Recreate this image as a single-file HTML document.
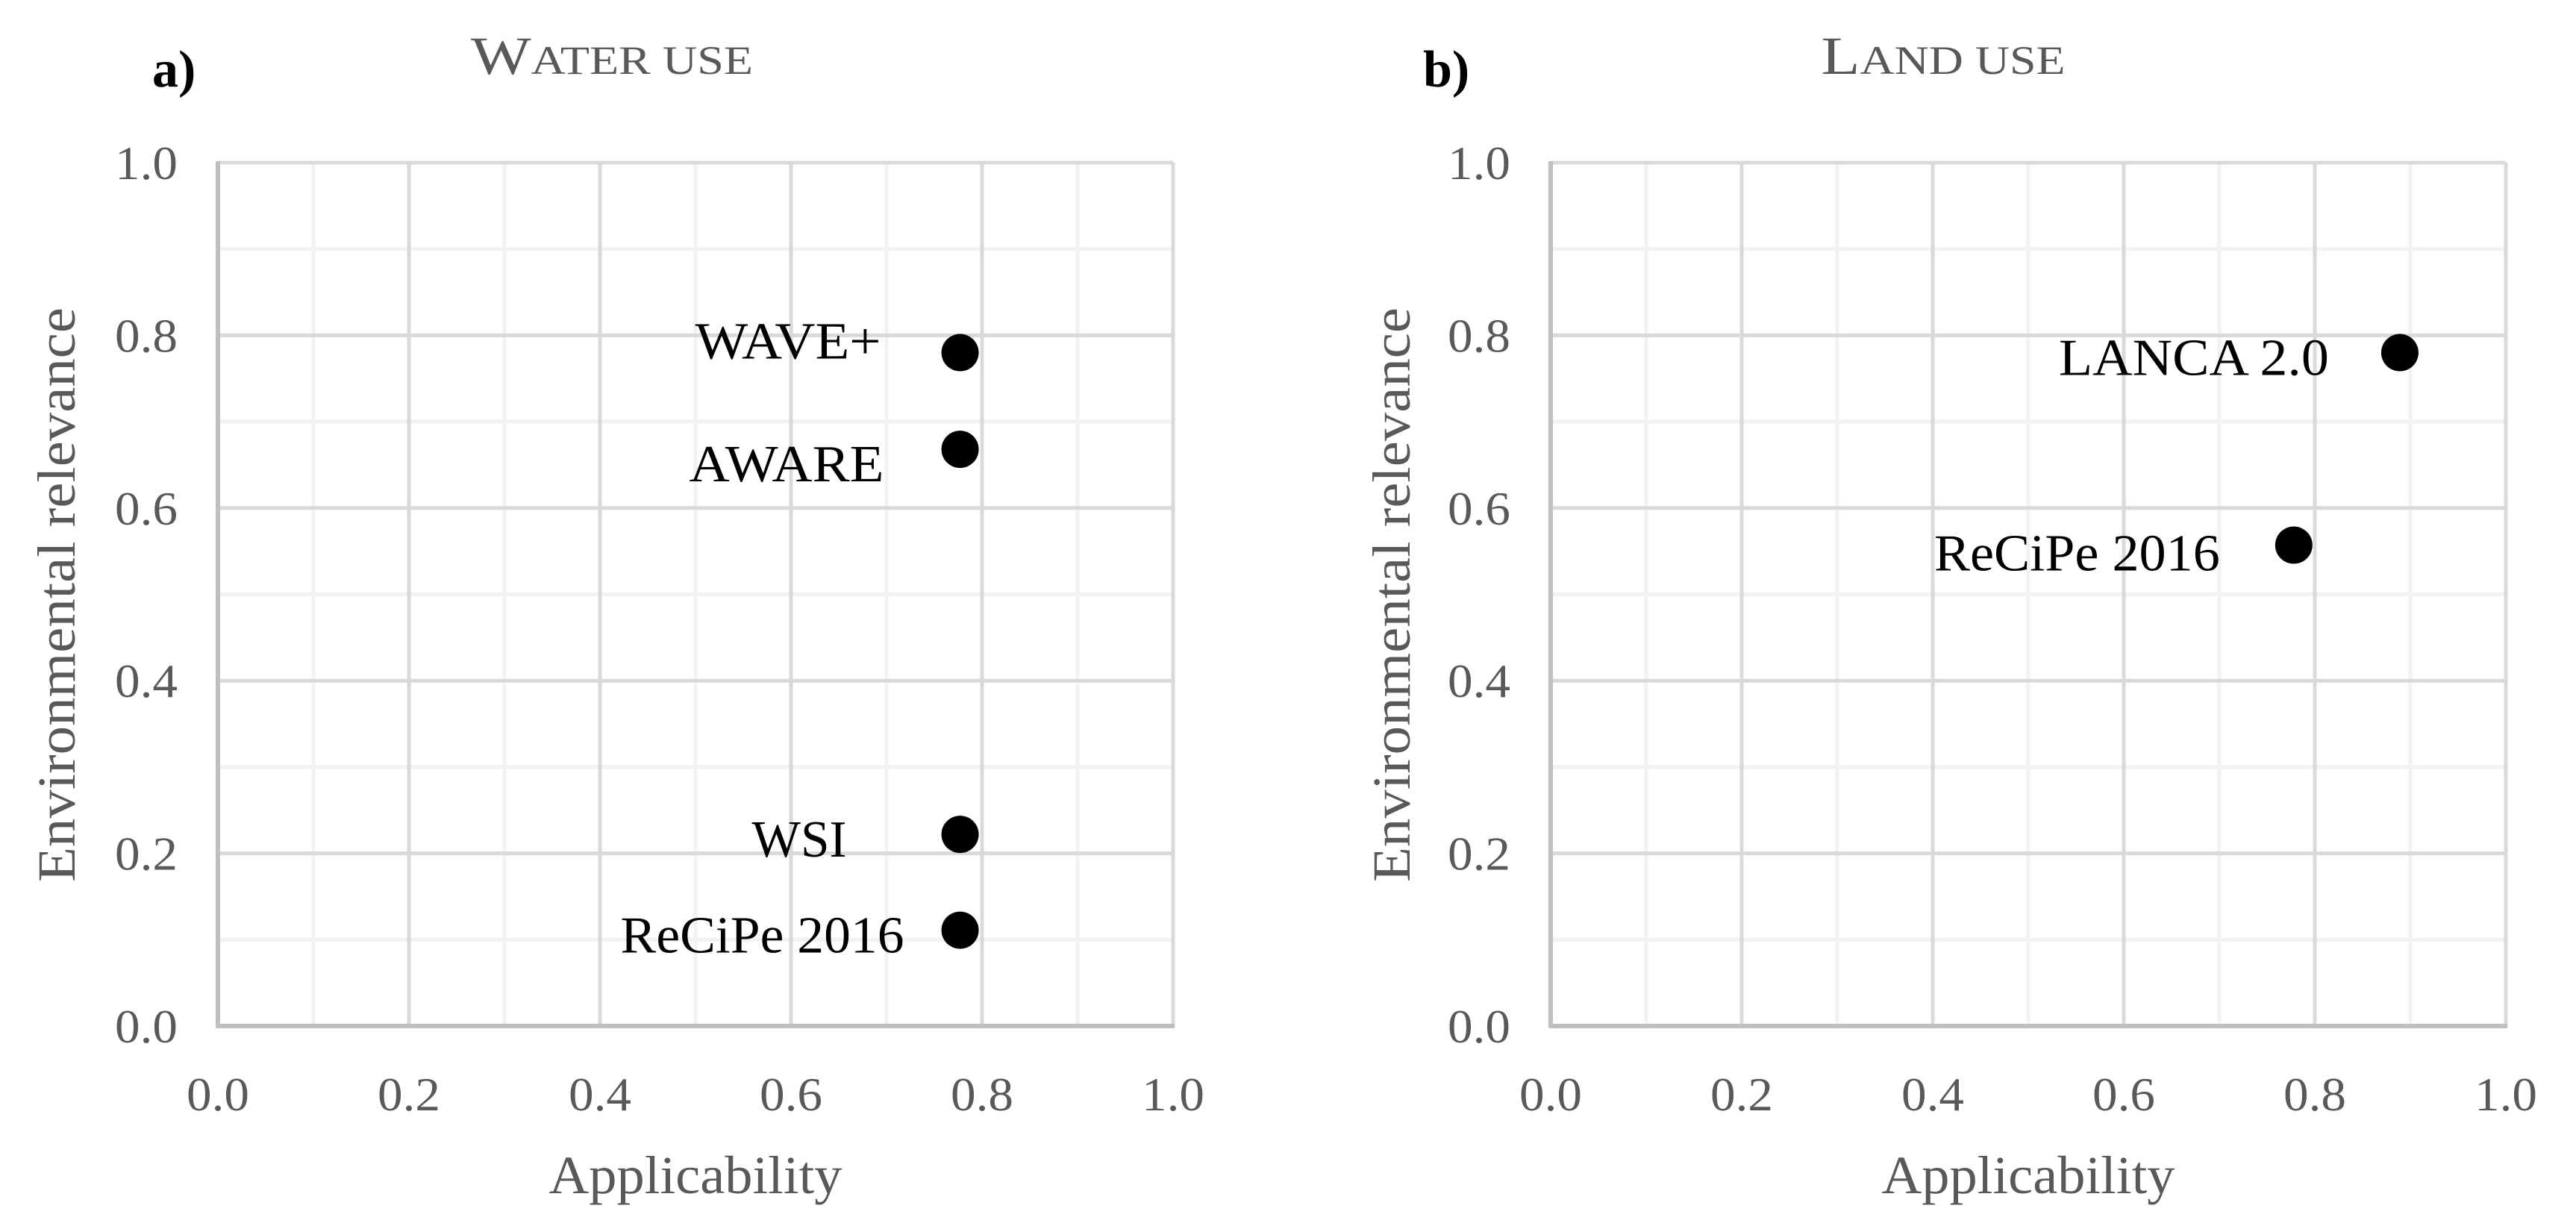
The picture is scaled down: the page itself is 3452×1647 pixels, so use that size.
<!DOCTYPE html>
<html><head><meta charset="utf-8"><style>
html,body{margin:0;padding:0;background:#fff;}
svg{display:block;font-family:"Liberation Serif",serif;}
</style></head><body>
<svg id="chart" width="3452" height="1647" viewBox="0 0 3452 1647" xmlns="http://www.w3.org/2000/svg"></svg>
<script>
// Panel a: Water use
const waterLabels = ["WAVE+", "AWARE", "WSI", "ReCiPe 2016"];
const waterX = [0.777, 0.777, 0.777, 0.777];
const waterY = [0.78, 0.668, 0.222, 0.111];
// Panel b: Land use
const landLabels = ["LANCA 2.0", "ReCiPe 2016"];
const landX = [0.889, 0.778];
const landY = [0.78, 0.557];
const tickLabels = ["0.0", "0.2", "0.4", "0.6", "0.8", "1.0"];
const tickValues = [0, 0.2, 0.4, 0.6, 0.8, 1.0];
const minorValues = [0.1, 0.3, 0.5, 0.7, 0.9];

const NS = "http://www.w3.org/2000/svg";
const svg = document.getElementById('chart');
function mk(tag, attrs, parent) {
  const e = document.createElementNS(NS, tag);
  for (const k in attrs) e.setAttribute(k, attrs[k]);
  (parent || svg).appendChild(e);
  return e;
}

function panel(cfg) {
  const g = mk('g', {});
  
  
  const L = cfg.left, R = cfg.left + 1280, T = 218, B = 1375;
  const sx = v => L + v * (R - L);
  const sy = v => B - v * (B - T);
  minorValues.forEach(v => {
    const a = mk('line', {x1: sx(v), x2: sx(v), y1: T, y2: B, stroke: '#f2f2f2', 'stroke-width': 5}, g);
    
    
    const b = mk('line', {x1: L, x2: R, y1: sy(v), y2: sy(v), stroke: '#f2f2f2', 'stroke-width': 5}, g);
    
    
  });
  tickValues.forEach(v => {
    if (v > 0) {
      const a = mk('line', {x1: sx(v), x2: sx(v), y1: T, y2: B, stroke: '#d9d9d9', 'stroke-width': 5}, g);
      
      
      const b = mk('line', {x1: L, x2: R, y1: sy(v), y2: sy(v), stroke: '#d9d9d9', 'stroke-width': 5}, g);
      
      
    }
  });
  const xa = mk('line', {x1: L - 2, x2: R + 2, y1: B, y2: B, stroke: '#bfbfbf', 'stroke-width': 6}, g);
  
  
  const ya = mk('line', {x1: L, x2: L, y1: T - 2, y2: B + 2, stroke: '#bfbfbf', 'stroke-width': 6}, g);
  
  
  tickValues.forEach((v, i) => {
    const t = mk('text', {x: L - 54, y: sy(v) + 22, 'text-anchor': 'end', 'font-size': 64, fill: '#595959', textLength: 84, lengthAdjust: 'spacingAndGlyphs'}, g);
    t.textContent = tickLabels[i];
    
    
    const u = mk('text', {x: sx(v), y: 1488, 'text-anchor': 'middle', 'font-size': 64, fill: '#595959', textLength: 84, lengthAdjust: 'spacingAndGlyphs'}, g);
    u.textContent = tickLabels[i];
    
    
  });
  const xt = mk('text', {x: (L + R) / 2, y: 1599, 'text-anchor': 'middle', 'font-size': 72, fill: '#595959', textLength: 393, lengthAdjust: 'spacingAndGlyphs'}, g);
  xt.textContent = 'Applicability';
  
  
  const yt = mk('text', {x: 0, y: 0, 'text-anchor': 'middle', 'font-size': 72, fill: '#595959', textLength: 770, lengthAdjust: 'spacingAndGlyphs', transform: 'translate(' + (cfg.ytitleX + 36) + ',797) rotate(-90)'}, g);
  yt.textContent = 'Environmental relevance';
  
  
  const tt = mk('text', {x: cfg.titleX, y: 99, 'text-anchor': 'middle', fill: '#595959', textLength: cfg.titleLen, lengthAdjust: 'spacingAndGlyphs'}, g);
  
  
  const t1 = mk('tspan', {'font-size': 72}, tt); t1.textContent = cfg.title[0];
  const t2 = mk('tspan', {'font-size': 54}, tt); t2.textContent = cfg.title[1];
  const pl = mk('text', {x: cfg.letterX, y: 116, 'font-size': 70, 'font-weight': 'bold', fill: '#000'}, g);
  pl.textContent = cfg.letter;
  
  
  cfg.xs.forEach((xv, i) => {
    const c = mk('circle', {cx: sx(xv), cy: sy(cfg.ys[i]), r: 25, fill: '#000'}, g);
    
    
    const lb = mk('text', {x: sx(xv) + cfg.labDx[i], y: sy(cfg.ys[i]) + cfg.labDy[i], 'text-anchor': 'end', 'font-size': 70, fill: '#000', textLength: cfg.labW[i], lengthAdjust: 'spacingAndGlyphs'}, g);
    lb.textContent = cfg.labels[i];
    
    
  });
}

panel({name: 'water-use-panel', left: 292, xs: waterX, ys: waterY, labels: waterLabels,
  labDx: [-106, -102, -152, -75], labDy: [8, 43, 30, 30], labW: [249, 261, 127, 380],
  ytitleX: 64, titleX: 820, titleLen: 378, title: ['W', 'ATER USE'], letterX: 204, letter: 'a)'});
panel({name: 'land-use-panel', left: 2078, xs: landX, ys: landY, labels: landLabels,
  labDx: [-95, -99], labDy: [30, 34], labW: [362, 383],
  ytitleX: 1853, titleX: 2604, titleLen: 327, title: ['L', 'AND USE'], letterX: 1907, letter: 'b)'});
</script>
</body></html>
